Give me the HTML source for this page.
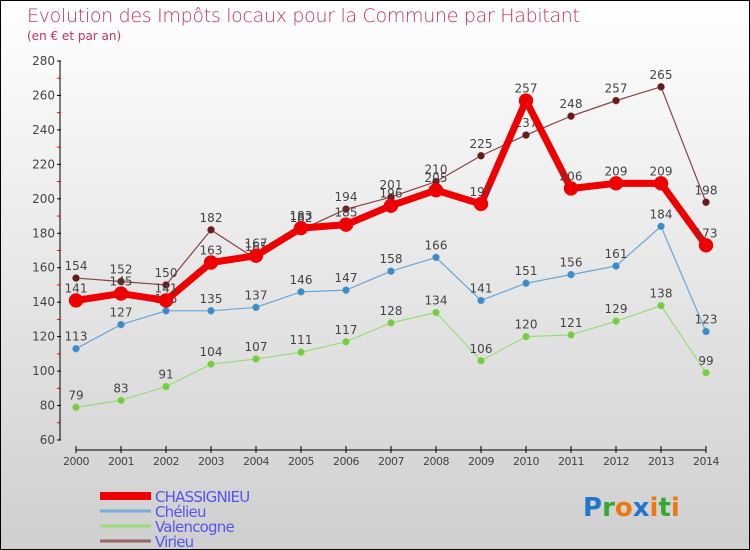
<!DOCTYPE html>
<html><head><meta charset="utf-8"><style>
html,body{margin:0;padding:0}
body{width:750px;height:550px;overflow:hidden;font-family:"DejaVu Sans","Liberation Sans",sans-serif}
#wrap{position:relative;width:748px;height:548px;border:1px solid #000;background:linear-gradient(#ffffff,#cfcfcf)}
.title{position:absolute;left:26px;top:4px;font-size:19px;color:#c0335e;font-weight:300;letter-spacing:-0.3px}
.sub{position:absolute;left:26px;top:28px;font-size:12px;color:#c0335e}
</style></head><body>
<div id="wrap">
<div class="title">Evolution des Impôts locaux pour la Commune par Habitant</div>
<div class="sub">(en € et par an)</div>
<svg id="chart" width="750" height="550" style="position:absolute;left:-1px;top:-1px"></svg>
</div>
<script>
const years=[2000,2001,2002,2003,2004,2005,2006,2007,2008,2009,2010,2011,2012,2013,2014];
const yTicks=[60,80,100,120,140,160,180,200,220,240,260,280];
const chassignieu=[141,145,141,163,167,183,185,196,205,197,257,206,209,209,173];
const chelieu=[113,127,135,135,137,146,147,158,166,141,151,156,161,184,123];
const valencogne=[79,83,91,104,107,111,117,128,134,106,120,121,129,138,99];
const virieu=[154,152,150,182,165,182,194,201,210,225,237,248,257,265,198];
const seriesNames=["CHASSIGNIEU","Chélieu","Valencogne","Virieu"];

const svg=document.getElementById('chart');
const NS='http://www.w3.org/2000/svg';
function x(i){return 76+i*45;}
function y(v){return 440-(v-60)*(379/220);}
function mk(tag,attrs,parent){const e=document.createElementNS(NS,tag);for(const k in attrs)e.setAttribute(k,attrs[k]);(parent||svg).appendChild(e);return e;}

// axes
let ax=mk('line',{x1:60,y1:61,x2:60,y2:440,stroke:'#000','stroke-width':1});


let xa=mk('line',{x1:76,y1:450,x2:706,y2:450,stroke:'#000','stroke-width':1});


yTicks.forEach((t,i)=>{
  mk('line',{x1:57,y1:y(t),x2:61,y2:y(t),stroke:'#000'});
  if(i<yTicks.length-1)mk('line',{x1:57,y1:y(t+10),x2:61,y2:y(t+10),stroke:'#f00'});
  const tx=mk('text',{x:55,y:y(t)+4,'text-anchor':'end','font-size':12,fill:'#444'});
  tx.textContent=t;
  
  
});
years.forEach((yr,i)=>{
  mk('line',{x1:x(i),y1:446,x2:x(i),y2:453,stroke:'#000'});
  const tx=mk('text',{x:x(i),y:465,'text-anchor':'middle','font-size':11,fill:'#444','letter-spacing':'-0.5'});
  tx.textContent=yr;
  
  
});

function drawSeries(data,color,dot,w,r,name){
  const g=mk('g',{});
  
  
  mk('polyline',{points:data.map((v,i)=>x(i)+','+y(v)).join(' '),fill:'none',stroke:color,'stroke-width':w,'stroke-linejoin':'round'},g);
  data.forEach((v,i)=>{
    const c=mk('circle',{cx:x(i),cy:y(v),r:r,fill:dot,stroke:color,'stroke-width':0.5},g);
    
    
    const t=mk('text',{x:x(i),y:y(v)-8,'text-anchor':'middle','font-size':12,fill:'#444'},g);
    t.textContent=v;
  });
}
drawSeries(valencogne,'#99dd77','#77cc44',1.2,3.5,'series-valencogne');
drawSeries(chelieu,'#6aa6d6','#3d8cc8',1.2,3.5,'series-chelieu');
drawSeries(virieu,'#884444','#661a1a',1.2,3.5,'series-virieu');
drawSeries(chassignieu,'#ee0000','#ee0000',7,7,'series-chassignieu');

// legend
const legColors=['#ee0000','#7aaad6','#99dd77','#996666'];
const legW=[8,3,3,3];
seriesNames.forEach((n,i)=>{
  const yy=496+i*15;
  const g=mk('g',{});
  
  
  mk('line',{x1:100,y1:yy,x2:151,y2:yy,stroke:legColors[i],'stroke-width':legW[i]},g);
  const t=mk('text',{x:155,y:yy+6,'font-size':15,fill:'#5555ee','letter-spacing':'-0.8'},g);
  t.textContent=n;
});
// logo
const logo=mk('text',{x:583,y:516,'font-size':26,'font-weight':'bold','font-family':'DejaVu Sans, sans-serif'});


[['P','#2277cc'],['r','#33aa33'],['o','#ee7711'],['x','#2277cc'],['i','#ee7711'],['t','#33aa33'],['i','#ee7711']].forEach(([c,f])=>{
  const s=mk('tspan',{fill:f},logo);s.textContent=c;
});
</script>
</body></html>
